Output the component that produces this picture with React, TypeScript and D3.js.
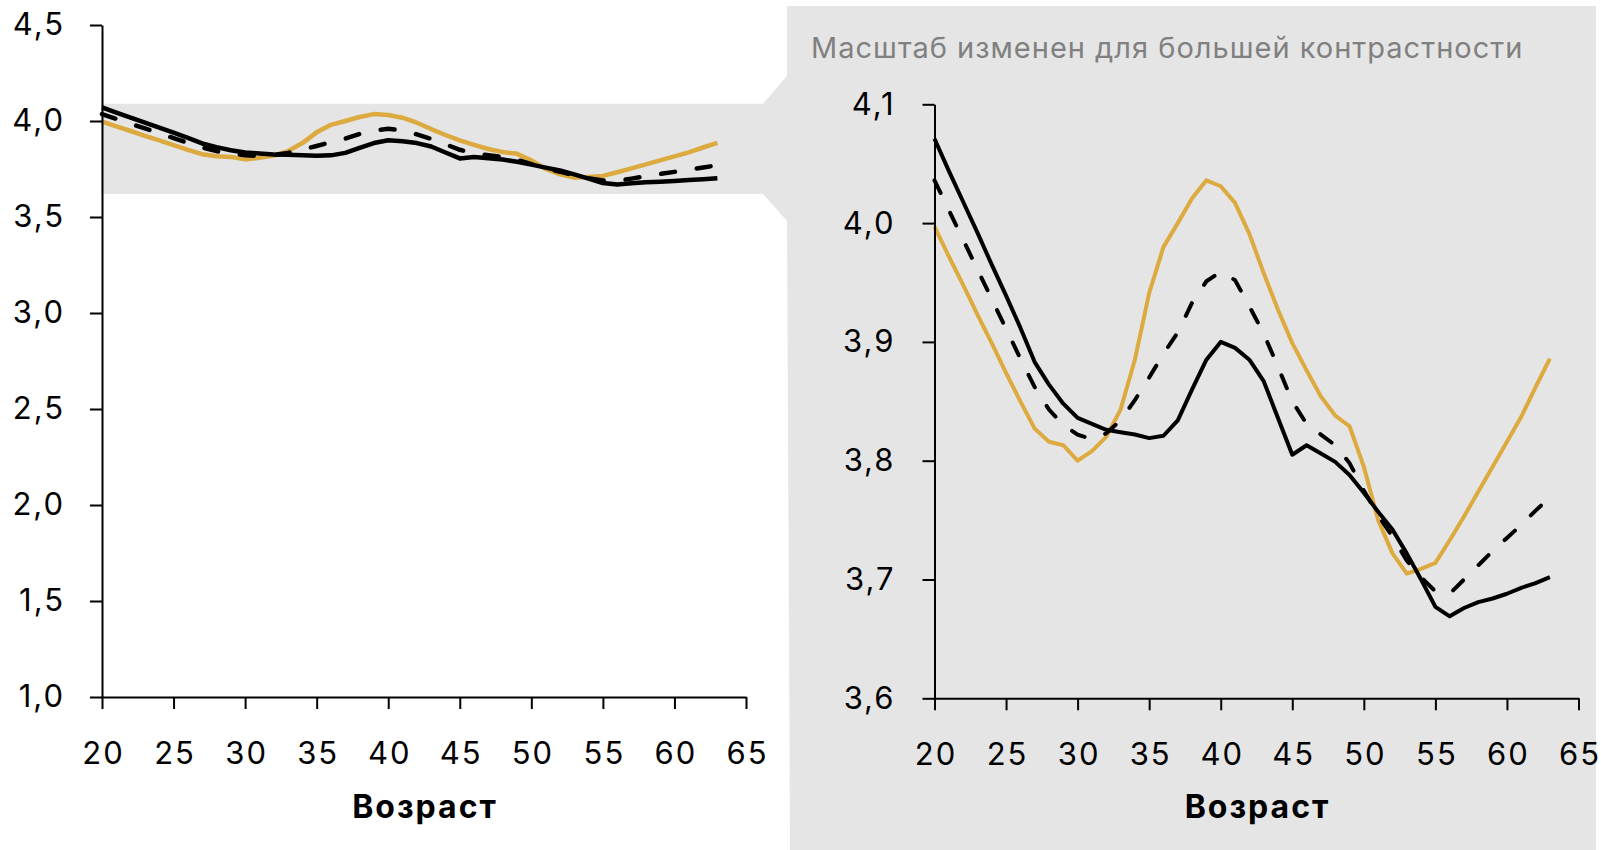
import { useEffect, useRef } from 'react';
import * as d3 from 'd3';

// Ages on the x axis (one point per year)
const ages = [
  20, 21, 22, 23, 24, 25, 26, 27, 28, 29, 30, 31, 32, 33, 34, 35, 36, 37, 38, 39, 40, 41,
  42, 43, 44, 45, 46, 47, 48, 49, 50, 51, 52, 53, 54, 55, 56, 57, 58, 59, 60, 61, 62, 63,
];

// Gold series
const goldValues = [
  3.997, 3.972, 3.948, 3.923, 3.899, 3.874, 3.85, 3.827, 3.816, 3.813, 3.8, 3.808, 3.82,
  3.843, 3.885, 3.941, 3.98, 4.0, 4.021, 4.036, 4.031, 4.017, 3.991, 3.958, 3.927, 3.899,
  3.876, 3.854, 3.838, 3.829, 3.795, 3.75, 3.722, 3.705, 3.709, 3.714, 3.733, 3.753, 3.774,
  3.795, 3.816, 3.837, 3.862, 3.886,
];

// Black solid series
const solidValues = [
  4.071, 4.044, 4.018, 3.992, 3.965, 3.939, 3.912, 3.883, 3.864, 3.848, 3.836, 3.831, 3.826,
  3.824, 3.822, 3.819, 3.821, 3.834, 3.86, 3.885, 3.9, 3.895, 3.885, 3.867, 3.836, 3.805,
  3.813, 3.806, 3.799, 3.788, 3.773, 3.757, 3.742, 3.722, 3.7, 3.677, 3.669, 3.676, 3.681,
  3.684, 3.688, 3.693, 3.697, 3.702,
];

// Black dashed series
const dashedValues = [
  4.036, 4.011, 3.986, 3.961, 3.936, 3.911, 3.886, 3.862, 3.843, 3.83, 3.822, 3.818, 3.823,
  3.834, 3.851, 3.87, 3.89, 3.908, 3.933, 3.951, 3.959, 3.952, 3.93, 3.907, 3.879, 3.85,
  3.831, 3.822, 3.813, 3.798, 3.775, 3.754, 3.736, 3.716, 3.702, 3.69, 3.688, 3.7, 3.712,
  3.724, 3.735, 3.746, 3.758, 3.769,
];

const xTicks = [20, 25, 30, 35, 40, 45, 50, 55, 60, 65];
const leftYTicks = [1.0, 1.5, 2.0, 2.5, 3.0, 3.5, 4.0, 4.5];
const rightYTicks = [3.6, 3.7, 3.8, 3.9, 4.0, 4.1];
const axisTitle = 'Возраст';
const zoomNote = 'Масштаб изменен для большей контрастности';

const GOLD = '#dcaa3e';
const PANEL = '#e5e5e5';
const FONT = 'Inter, "Open Sans", sans-serif';

export default function App() {
  const svgRef = useRef<SVGSVGElement>(null);

  useEffect(() => {
    const svg = d3.select(svgRef.current);
    svg.selectAll('*').remove();

    // Scales for the full view (left) and the zoomed view (right)
    const leftX = d3.scaleLinear().domain([20, 65]).range([102, 746]);
    const leftY = d3.scaleLinear().domain([1, 4.5]).range([697, 25]);
    const rightX = d3.scaleLinear().domain([20, 65]).range([934.5, 1578.5]);
    const rightY = d3.scaleLinear().domain([3.6, 4.1]).range([698.3, 104.3]);

    // Grey band + funnel + zoom panel
    const bandTop = leftY(4.09);
    const bandBot = leftY(3.62);
    const shape: [number, number][] = [
      [101, bandTop],
      [763, bandTop],
      [787, 76],
      [787, 6],
      [1596, 6],
      [1596, 850],
      [790, 850],
      [787, 221],
      [763, bandBot],
      [101, bandBot],
    ];
    svg
      .append('path')
      .attr('d', d3.line()(shape) + 'Z')
      .attr('fill', PANEL);

    const fmt = (d: number) => d3.format('.1f')(d).replace('.', ',');

    function drawChart(
      sx: d3.ScaleLinear<number, number>,
      sy: d3.ScaleLinear<number, number>,
      yTicks: number[],
      yPad: number,
      lw: number
    ) {
      const g = svg.append('g');

      // lines: gold, dashed, solid
      const line = d3
        .line<number>()
        .x((d, i) => sx(ages[i]))
        .y((d) => sy(d));

      g.append('path')
        .datum(goldValues)
        .attr('fill', 'none')
        .attr('stroke', GOLD)
        .attr('stroke-width', lw)
        .attr('stroke-linejoin', 'round')
        .attr('d', line);

      g.append('path')
        .datum(dashedValues)
        .attr('fill', 'none')
        .attr('stroke', '#000')
        .attr('stroke-width', lw)
        .attr('stroke-dasharray', '14 22')
        .attr('stroke-linecap', 'round')
        .attr('d', line);

      g.append('path')
        .datum(solidValues)
        .attr('fill', 'none')
        .attr('stroke', '#000')
        .attr('stroke-width', lw)
        .attr('stroke-linejoin', 'round')
        .attr('d', line);

      // y axis
      const yAxis = d3
        .axisLeft(sy)
        .tickValues(yTicks)
        .tickFormat((d) => fmt(d as number))
        .tickSize(12)
        .tickSizeOuter(0)
        .tickPadding(yPad);
      const ya = g
        .append('g')
        .attr('transform', `translate(${sx(20)},0)`)
        .call(yAxis);

      // x axis
      const xAxis = d3
        .axisBottom(sx)
        .tickValues(xTicks)
        .tickSize(12)
        .tickSizeOuter(0)
        .tickPadding(33);
      const xa = g
        .append('g')
        .attr('transform', `translate(0,${sy.range()[0]})`)
        .call(xAxis);

      [ya, xa].forEach((a) => {
        a.select('.domain').attr('stroke', '#000').attr('stroke-width', 2);
        a.selectAll('.tick line').attr('stroke', '#000').attr('stroke-width', 2);
        a.selectAll('.tick text')
          .attr('fill', '#000')
          .style('font-family', FONT)
          .style('font-size', '31px')
          .style('letter-spacing', '2px');
      });
      // shift x labels so trailing letter spacing doesn't offset the centre
      xa.selectAll('.tick text').attr('dx', 1);

      // axis title
      g.append('text')
        .attr('x', (sx(20) + sx(65)) / 2 + 1)
        .attr('y', 818)
        .attr('text-anchor', 'middle')
        .style('font-family', FONT)
        .style('font-size', '32px')
        .style('font-weight', 700)
        .style('letter-spacing', '2px')
        .attr('fill', '#000')
        .text(axisTitle);
    }

    drawChart(leftX, leftY, leftYTicks, 25, 4.5);
    drawChart(rightX, rightY, rightYTicks, 27, 4);

    // note on the zoom panel
    svg
      .append('text')
      .attr('x', 811)
      .attr('y', 58)
      .style('font-family', FONT)
      .style('font-size', '29px')
      .style('letter-spacing', '1px')
      .attr('fill', '#808080')
      .text(zoomNote);
  }, []);

  return (
    <svg
      ref={svgRef}
      width={1601}
      height={850}
      style={{ position: 'absolute', left: 0, top: 0, background: '#fff' }}
    ></svg>
  );
}
